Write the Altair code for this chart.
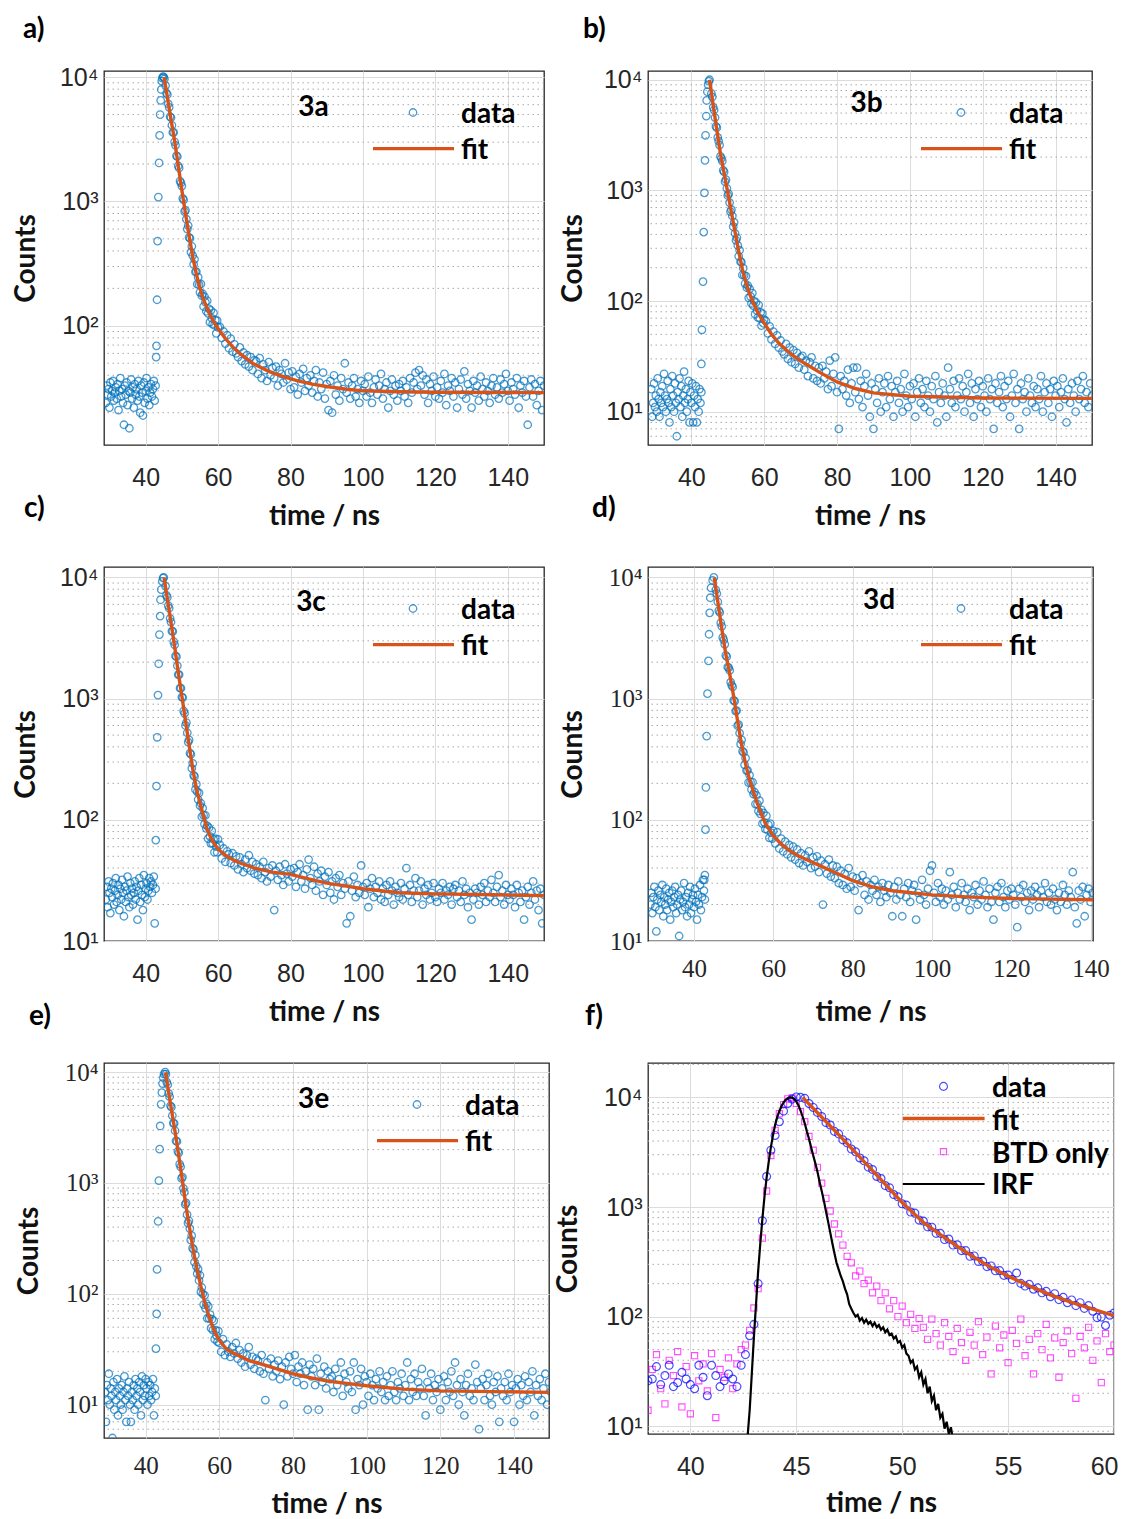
import altair as alt
import pandas as pd

# ---------------- data ----------------
# panels a-e: background counts at 29.0 + 0.25*i, rise points (explicit times),
# decay counts at 45.5 + 0.25*i, tail counts at 60.5 + 0.5*i
a_bg = [24,33,28,31,22,35,27,30,36,25,29,32,26,34,21,30,38,27,31,24,16,33,28,35,23,30,15,29,37,26,
        32,22,34,28,31,25,36,27,20,33,29,19,35,24,30,38,26,32,23,29,34,27,31,36,25,33]
a_rise_t = [42.9,43.0,43.15,43.3,43.5,43.7,43.85,44.0,44.15,44.3,44.45,44.6,44.8,45.0,45.2]
a_rise_c = [56,69,162,480,1085,2040,3400,5000,6500,7950,9300,9800,10100,10000,9700]
a_dec = [8550,7420,7250,6100,5720,4800,4730,4100,3590,3600,3020,2830,2330,2300,1930,1860,1460,1410,1330,1060,
         1030,830,850,720,600,640,514,505,392,436,367,312,343,271,273,216,246,214,186,217,
         175,181,143,172,155,131,159,126,137,107,133,115,103,127,101,111,87,110,97]
a_tail = [98,80,90,72,84,66,79,62,71,60, 56,67,52,61,49,58,47,56,44,53, 52,41,55,38,49,44,36,51,40,46,
          38,47,33,44,41,35,50,37,42,31, 43,32,39,28,41,35,45,30,38,33, 40,29,36,44,27,35,31,42,26,34,
          21,36,20,40,28,33,25,38,31,50, 29,35,26,33,38,27,31,24,36,30, 34,27,39,29,24,32,37,28,33,41,
          26,31,35,22,30,37,28,33,25,34, 30,36,27,32,24,38,29,35,42,31, 44,33,40,28,37,24,34,30,39,27,
          32,26,36,29,41,23,33,30,38,27, 35,22,31,37,28,43,26,34,30,22, 36,29,33,25,39,31,27,35,30,24,
          33,38,28,32,26,37,29,34,41,30, 25,35,31,28,38,22,33,29,36,27, 16,32,37,27,34,23,30,36,21,33]
a_fit_t = [45.1,46,47,48,49,50,51,52,53,54,55,56,57,58,59,60,62,64,66,68,70,74,78,82,86,90,95,100,110,120,150]
a_fit_c = [10000,6900,4550,3080,1950,1230,800,530,360,260,200,162,138,119,105,95,79,68,60,54,49,43,39,36,34,32.5,31,30,29.5,29.2,29]

b_bg = [16,9,12,18,11,14,10,20,13,9,15,12,17,11,22,14,10,13,19,12,8,16,11,21,14,10,18,12,6,15,
        13,20,11,17,9,14,23,12,16,10,13,19,8,15,12,18,8,14,11,17,8,13,10,16,12,15]
b_rise_t = [42.75,42.9,43.2,43.4,43.6,43.75,43.9,44.1,44.2,44.4,44.6,44.8,45.0]
b_rise_c = [27,55,150,420,950,1870,3150,4700,6500,7800,9000,9700,10000]
b_dec = [7520,6990,5650,5330,4550,3790,3690,3010,2790,2570,2030,1950,1840,1520,1470,1200,1250,1045,900,930,
         776,644,669,587,470,514,409,354,373,318,254,288,227,225,172,198,171,144,168,132,
         138,107,129,110,95,118,91,100,76,97,82,71,92,70,79,60,77,63,68]
b_tail = [66,51,59,45,53,41,49,38,44,35, 33,41,30,38,28,36,27,34,25,31, 32,24,29,21,28,31,20,26,19,25,
          18,26,20,23,16,29,17,22,31,15, 7,21,16,19,14,24,12,18,25,15, 25,13,19,11,17,22,14,9,18,7,
          16,12,20,10,15,18,11,21,13,17, 9,15,19,12,16,10,22,14,11,17, 13,18,9,15,20,12,16,11,19,14,
          10,17,13,21,8,15,12,18,14,9, 25,16,12,19,11,14,20,13,17,10, 15,22,12,18,9,16,13,19,11,17,
          14,10,20,13,16,7,18,12,15,21, 11,17,13,19,9,14,22,12,16,7, 18,13,15,10,20,14,12,17,11,16,
          13,21,10,15,18,12,16,9,19,14, 17,11,15,20,13,8,16,12,18,14, 10,19,13,16,21,12,15,11,18,14]
b_fit_t = [45.0,46,47,48,49,50,51,52,53,54,55,56,57,58,59,60,62,64,66,68,70,72,75,80,85,90,100,120,150]
b_fit_c = [10000,5890,3510,2140,1430,955,631,422,282,195,146,116,96.6,82.2,71.6,63.1,50.1,41.7,36.3,32.0,28.8,26.3,22.9,18.6,16.2,14.8,13.8,13.3,13.2]

c_bg = [22,28,19,31,25,17,27,23,30,20,26,33,21,24,29,18,27,22,32,25,16,28,21,26,34,23,19,30,24,27,
        20,25,31,22,28,15,26,33,21,29,24,18,35,23,27,30,22,26,33,28,31,25,29,34,14,27]
c_rise_t = [42.8,43.0,43.2,43.4,43.6,43.8,44.0,44.1,44.3,44.6,44.8,45.0]
c_rise_c = [68,190,480,1070,1940,3380,4800,6550,7950,9300,9900,10000]
c_dec = [8480,7110,6860,5850,5570,4600,4290,3610,3590,2960,2780,2250,2220,1870,1580,1580,1220,1220,1030,1020,
         791,756,601,635,523,438,457,355,347,266,292,233,228,178,197,170,147,167,131,137,
         106,125,109,92,109,85,89,70,86,73,64,81,64,69,54,70,60,54,69]
c_tail = [62,48,58,45,55,52,44,53,42,50, 39,49,43,37,47,40,51,38,45,36, 43,35,41,33,45,37,31,40,34,42,
          18,38,32,41,35,29,43,36,31,39, 34,40,28,37,43,31,35,27,39,47, 33,29,41,26,36,31,38,24,34,29,
          37,25,31,22,33,28,35,24,30,27, 14,31,16,26,34,23,29,25,42,28, 24,30,19,27,33,23,28,25,31,22,
          27,21,29,24,31,26,20,28,25,23, 30,22,27,40,24,29,21,26,33,23, 26,31,20,27,24,29,22,25,30,23,
          21,27,25,30,22,26,24,28,20,27, 29,23,26,21,31,24,27,19,25,15, 22,27,25,20,28,24,30,21,26,23,
          32,25,21,28,35,23,26,20,29,24, 22,27,24,19,29,25,21,26,15,23, 28,20,25,31,22,26,18,27,14,24]
c_fit_t = [45.1,46,47,48,49,50,51,52,53,54,55,56,57,58,59,60,62,64,66,68,70,75,80,85,90,95,100,110,120,150]
c_fit_c = [10000,6600,4250,2700,1650,1050,660,415,263,182,138,107,83,71,63,57.5,51,47,44,42,40,37,35.5,32.5,30,28.5,27,25,24.5,23.7]

d_bg = [20,25,17,23,28,19,12,22,26,18,24,21,29,16,23,20,27,18,22,25,15,21,26,19,23,28,17,20,24,11,
        22,26,18,21,30,19,23,16,25,20,28,17,22,24,19,27,21,15,24,20,29,18,23,32,26,22]
d_rise_t = [42.6,42.75,42.9,43.0,43.2,43.4,43.65,43.8,43.95,44.1,44.3,44.7,45.0]
d_rise_c = [32,35,83,185,490,1100,2050,3400,5100,6800,8200,9450,10000]
d_dec = [7900,7370,6300,5330,5140,4230,3950,3200,3050,2810,2280,2220,1820,1800,1710,1370,1290,1250,967,953,
         789,797,598,610,519,422,457,368,360,284,323,255,256,203,234,205,178,205,163,169,
         135,159,135,118,144,112,121,93,114,95,84,108,83,91,71,93,78,70,81]
d_tail = [64,79,58,70,55,66,52,62,49,60, 47,57,44,53,42,51,45,55,40,49, 41,50,37,46,20,43,36,47,34,42,
          33,41,30,38,29,36,27,40,28,34, 26,33,18,30,35,24,31,22,29,26, 32,24,28,21,30,26,23,29,25,16,
          28,22,31,24,16,27,23,30,21,26, 29,15,25,22,32,24,20,27,38,42, 25,21,30,23,27,20,26,22,37,24,
          28,19,25,22,30,24,21,27,18,25, 23,29,20,26,22,31,24,19,27,21, 15,25,28,21,30,23,19,26,22,27,
          24,20,13,27,23,29,21,25,18,26, 22,28,24,19,26,23,30,21,25,20, 27,22,18,25,21,29,24,20,26,23,
          37,19,14,26,22,28,16,24,27,21, 25]
d_fit_t = [45.1,46,47,48,49,50,51,52,53,54,55,56,57,58,59,60,62,64,66,68,70,72,75,80,85,90,100,110,120,140.6]
d_fit_c = [10000,6300,3800,2350,1600,1040,650,415,288,215,170,135,112,93,83,74,63,56,51,47.5,44.5,41.5,37.5,31.5,28,26,24,23,22.4,21.9]

e_bg = [13,7,15,11,19,10,14,12,5,16,9,13,11,17,8,14,12,10,15,9,13,18,11,7,14,12,16,10,7,13,
        11,15,9,17,12,14,10,16,13,8,18,11,15,12,17,14,10,16,12,15,11,13,17,8,14,12]
e_rise_t = [42.8,43.0,43.1,43.4,43.6,43.8,43.95,44.2,44.4,44.6,44.8,45.0,45.3]
e_rise_c = [32,66,166,450,1050,2020,3270,5130,6540,7900,8920,9600,10000]
e_dec = [9600,8140,7700,6440,6010,4970,4830,4060,3470,3450,2960,2400,2370,1930,1870,1480,1400,1100,1130,895,
         826,642,660,519,435,456,388,305,335,258,252,193,223,177,152,167,132,147,104,114,
         100,80,97,74,81,60,77,60,65,49,59,47,57,39,47,42,37,46,36]
e_tail = [30,39,28,35,30,27,33,29,36,26, 31,24,29,22,28,33,23,27,21,26, 25,20,28,19,11,24,21,26,18,23,
          20,25,17,22,10,24,18,27,21,19, 28,16,22,19,24,15,20,9,23,18, 21,15,26,9,19,16,22,14,20,17,
          18,13,21,15,17,24,12,19,16,14, 20,13,24,9,17,15,21,10,18,16, 12,19,15,11,17,14,20,13,16,11,
          18,12,15,20,13,11,16,14,19,12, 15,24,11,17,13,19,12,16,14,21, 12,8,16,14,19,11,15,13,17,9,
          14,18,11,16,13,20,12,24,15,10, 17,13,8,15,19,12,14,11,23,16, 6,14,17,11,15,19,12,10,16,13,
          18,7,14,12,16,11,19,13,15,7, 14,17,10,15,12,18,11,16,13,20, 8,15,12,17,11,14,19,10,16,13]
e_fit_t = [45.4,46,47,48,49,50,51,52,53,54,55,56,57,58,59,60,62,64,66,68,70,75,80,85,90,100,110,120,150]
e_fit_c = [10000,7400,4600,2900,1750,1050,600,380,240,165,117,85,66,52.5,43.5,38,31.6,29,27,25,24,21.4,19,17.4,16.2,14.8,13.8,13.3,12.9]

# panel f: data and BTD-only counts at 38.0 + 0.2*i, IRF at 42.6 + 0.1*i
f_data = [26,27,35,24,29,36,23,25,31,27,24,22,36,28,19,36,29,23,26,30,27,23,36,45,67,85,200,750,1900,3300,
          4500,6000,7500,8800,9650,10100,10000,
          9800,8800,8100,7300,6700,5900,5600,4900,4650,4100,3850,3380,3190,2800,2640,2310,2200,1900,1820,1570,
          1500,1300,1240,1070,1040,900,880,760,745,660,655,575,575,505,510,450,452,400,400,355,
          358,318,320,286,290,262,263,238,240,218,250,201,190,197,178,183,165,170,152,162,
          143,150,134,142,126,134,119,126,112,98,99,83,103,108]
f_btd = [14,33,45,22,16,40,29,48,15,35,13,44,26,37,21,46,12,33,28,42,22,37,50,55,75,120,180,520,1400,2950,
         5000,7100,8600,9700,9900,8800,7400,6000,4400,3300,2300,1650,1200,920,700,570,450,355,310,235,
         260,200,215,165,190,140,165,118,140,100,125,88,105,78,96,80,
         62,95,70,55,88,66,48,78,58,40,72,55,90,45,65,30,82,52,68,38,75,57,95,44,62,30,70,50,85,42,
         64,28,58,74,46,18,66,52,80,40,60,25,70,48,55]
f_irf = [5,8,14,30,65,130,260,460,780,1250,1850,2600,3500,4500,5600,6600,7500,8300,9000,9500,
         9850,10000,9950,9700,9200,8500,7600,6700,5800,4900,4200,3500,2950,2500,2100,1700,1400,1150,920,740,
         590,470,380,310,270,235,210,180,160,130,118,108,100,104,92,97,88,94,86,90,
         82,88,80,84,76,80,72,76,68,70,63,66,58,60,52,55,46,44,38,40,
         33,35,28,31,24,27,20,23,17,19,14,16,12,13,9.5,11,8.5,9.8,7.5,8]
f_fit_t = [45.3,46,47,48,49,50,51,52,53,54,55,56,57,58,59,60]
f_fit_c = [10000,7240,4570,2850,1780,1100,724,525,389,295,234,191,158,135,117,102]

# ---------------- style ----------------
BLUE = "#0072BD"
ORANGE = "#D95319"
GRID = "#dcdcdc"
MINOR = "#a8a8a8"
FRAME = "#262626"
TXT = "#262626"
SANS = "Liberation Sans"
SERIF = "Liberation Serif"
BOLD = "Lato"
SUP = ("datum.value == 10 ? '10\u00b9' : datum.value == 100 ? '10\u00b2' : "
       "datum.value == 1000 ? '10\u00b3' : '10\u2074'")
ONE = pd.DataFrame({"k": [0]})
MSIZE = 56


def seq(start, step, n):
    return [round(start + i * step, 4) for i in range(n)]


def decay_df(bg, rt, rc, dec, tail):
    t = seq(29.0, 0.25, len(bg)) + list(rt) + seq(45.5, 0.25, len(dec)) + seq(60.5, 0.5, len(tail))
    c = list(bg) + list(rc) + list(dec) + list(tail)
    return pd.DataFrame({"t": t, "c": c})


def minor_vals(lo, hi):
    out = []
    for k in range(0, 6):
        for m in range(2, 10):
            v = m * 10 ** k
            if lo < v < hi:
                out.append(v)
    return out


def text(s, x, y, align="left", size=28):
    return alt.Chart(ONE).mark_text(text=s, font=BOLD, fontWeight="bold", fontSize=size,
                                    align=align, baseline="middle", color="black").encode(
        x=alt.value(x), y=alt.value(y))


def scales(xdom, ydom):
    return (alt.Scale(domain=xdom, nice=False, zero=False),
            alt.Scale(type="log", domain=ydom, nice=False))


def axes(xticks, yticks, font, title_x, lab_pad=20, flush=False, title_y=71):
    xkw = dict(labelFlush=True, labelFlushOffset=4) if flush else dict(labelFlush=False)
    xa = alt.Axis(values=xticks, title="time / ns", grid=True, gridColor=GRID, gridWidth=1,
                  ticks=False, domain=False, labelFont=font, labelFontSize=25, labelColor=TXT,
                  labelPadding=lab_pad, labelOverlap=False,
                  titleFont=BOLD, titleFontSize=28, titleFontWeight="bold", titleColor="#111111",
                  titleY=title_y, titleBaseline="middle", **xkw)
    ya = alt.Axis(values=yticks, labelExpr=SUP, title="Counts", grid=True, gridColor=GRID, gridWidth=1,
                  ticks=False, domain=False, labelFont=font, labelFontSize=25, labelColor=TXT,
                  labelPadding=6, labelOverlap=False,
                  titleFont=BOLD, titleFontSize=28, titleFontWeight="bold", titleColor="#111111",
                  titleX=title_x, titleBaseline="middle")
    return xa, ya


def decay_panel(df, fit_t, fit_c, xdom, ydom, xticks, yticks, font, title_x, lab_pad, w, h,
                tag, tag_x, tag_y, leg_dx, extras, title_y=71):
    xs, ys = scales(xdom, ydom)
    xa, ya = axes(xticks, yticks, font, title_x, lab_pad, title_y=title_y)
    minor = alt.Chart(pd.DataFrame({"c": minor_vals(*ydom)})).mark_rule(
        color=MINOR, strokeDash=[1.5, 3.5], strokeWidth=1).encode(y=alt.Y("c:Q", scale=ys, axis=ya))
    pts = alt.Chart(df).mark_point(shape="circle", filled=False, size=MSIZE, strokeWidth=1.3,
                                   color=BLUE, clip=True).encode(
        x=alt.X("t:Q", scale=xs, axis=xa), y=alt.Y("c:Q", scale=ys, axis=ya))
    fit = alt.Chart(pd.DataFrame({"t": fit_t, "c": fit_c})).mark_line(
        color=ORANGE, strokeWidth=3.4, clip=True).encode(
        x=alt.X("t:Q", scale=xs, axis=xa), y=alt.Y("c:Q", scale=ys, axis=ya))
    leg = [
        text(tag, tag_x, tag_y, align="center"),
        alt.Chart(ONE).mark_point(shape="circle", filled=False, size=MSIZE, strokeWidth=1.3,
                                  color=BLUE).encode(x=alt.value(309 + leg_dx), y=alt.value(41.5)),
        text("data", 357 + leg_dx, 44),
        alt.Chart(ONE).mark_rule(color=ORANGE, strokeWidth=3.4).encode(
            x=alt.value(269 + leg_dx), x2=alt.value(350 + leg_dx), y=alt.value(77.6)),
        text("fit", 357 + leg_dx, 79.5),
    ]
    return alt.layer(minor, pts, fit, *leg, *extras).properties(width=w, height=h)


A = decay_panel(decay_df(a_bg, a_rise_t, a_rise_c, a_dec, a_tail), a_fit_t, a_fit_c,
                [28.5, 150], [11, 11200], [40, 60, 80, 100, 120, 140], [100, 1000, 10000],
                SANS, -78, 20, 440, 374, "3a", 209.5, 36.5, 0,
                [text("a)", -81, -41.5), text("c)", -80, 438)])
B = decay_panel(decay_df(b_bg, b_rise_t, b_rise_c, b_dec, b_tail), b_fit_t, b_fit_c,
                [28.1, 150], [5, 12000], [40, 60, 80, 100, 120, 140], [10, 100, 1000, 10000],
                SANS, -75, 20, 444, 374, "3b", 218.6, 33, 4,
                [text("b)", -65, -41.5), text("d)", -56, 438)])
C = decay_panel(decay_df(c_bg, c_rise_t, c_rise_c, c_dec, c_tail), c_fit_t, c_fit_c,
                [28.5, 150], [10, 12200], [40, 60, 80, 100, 120, 140], [10, 100, 1000, 10000],
                SANS, -78, 20, 440, 374, "3c", 207, 36, 0,
                [text("e)", -75, 450)])
D = decay_panel(decay_df(d_bg, d_rise_t, d_rise_c, d_dec, d_tail), d_fit_t, d_fit_c,
                [28.4, 140.6], [10, 12200], [40, 60, 80, 100, 120, 140], [10, 100, 1000, 10000],
                SERIF, -75, 15, 445, 374, "3d", 231, 34, 4,
                [text("f)", -63, 450)])
E = decay_panel(decay_df(e_bg, e_rise_t, e_rise_c, e_dec, e_tail), e_fit_t, e_fit_c,
                [28.7, 149.5], [5, 12100], [40, 60, 80, 100, 120, 140], [10, 100, 1000, 10000],
                SERIF, -75, 15, 445, 375, "3e", 209.6, 36.5, 4, [], title_y=66)

# ---- panel f ----
fxs, fys = scales([38, 60], [8.5, 20600])
fxa, fya = axes([40, 45, 50, 55, 60], [10, 100, 1000, 10000], SANS, -80, 20, flush=True, title_y=69)
f_minor = alt.Chart(pd.DataFrame({"c": minor_vals(8.5, 20600)})).mark_rule(
    color=MINOR, strokeDash=[1.5, 3.5], strokeWidth=1).encode(y=alt.Y("c:Q", scale=fys, axis=fya))
f_sq = alt.Chart(pd.DataFrame({"t": seq(38.0, 0.2, len(f_btd)), "c": f_btd})).mark_point(
    shape="square", filled=False, size=38, strokeWidth=1.1, color="#FF00FF", clip=True).encode(
    x=alt.X("t:Q", scale=fxs, axis=fxa), y=alt.Y("c:Q", scale=fys, axis=fya))
f_pts = alt.Chart(pd.DataFrame({"t": seq(38.0, 0.2, len(f_data)), "c": f_data})).mark_point(
    shape="circle", filled=False, size=62, strokeWidth=1.2, color="#0000FF", clip=True).encode(
    x=alt.X("t:Q", scale=fxs, axis=fxa), y=alt.Y("c:Q", scale=fys, axis=fya))
f_irf_l = alt.Chart(pd.DataFrame({"t": seq(42.6, 0.1, len(f_irf)), "c": f_irf})).mark_line(
    color="black", strokeWidth=2.2, clip=True).encode(
    x=alt.X("t:Q", scale=fxs, axis=fxa), y=alt.Y("c:Q", scale=fys, axis=fya))
f_fit = alt.Chart(pd.DataFrame({"t": f_fit_t, "c": f_fit_c})).mark_line(
    color=ORANGE, strokeWidth=3.4, clip=True).encode(
    x=alt.X("t:Q", scale=fxs, axis=fxa), y=alt.Y("c:Q", scale=fys, axis=fya))
f_leg = [
    alt.Chart(ONE).mark_point(shape="circle", filled=False, size=62, strokeWidth=1.2,
                              color="#0000FF").encode(x=alt.value(295.5), y=alt.value(23.4)),
    text("data", 344, 25.7),
    alt.Chart(ONE).mark_rule(color=ORANGE, strokeWidth=3.4).encode(
        x=alt.value(254.8), x2=alt.value(336.6), y=alt.value(55.5)),
    text("fit", 344, 59),
    alt.Chart(ONE).mark_point(shape="square", filled=False, size=38, strokeWidth=1.1,
                              color="#FF00FF").encode(x=alt.value(295.5), y=alt.value(88.7)),
    text("BTD only", 344, 92),
    alt.Chart(ONE).mark_rule(color="black", strokeWidth=2.2).encode(
        x=alt.value(254.8), x2=alt.value(336.6), y=alt.value(121)),
    text("IRF", 344, 123.4),
]
F = alt.layer(f_minor, f_sq, f_pts, f_irf_l, f_fit, *f_leg).properties(width=466, height=371)

chart = alt.concat(A, B, C, D, E, F, columns=2, bounds="flush",
                   spacing={"row": 122, "column": 99}).properties(
    padding={"left": 3, "top": 6, "right": 0, "bottom": 0},
    background="white",
).configure_view(stroke=FRAME, strokeWidth=1.3)

chart.save("out.html", embed_options={"renderer": "svg", "actions": False})
